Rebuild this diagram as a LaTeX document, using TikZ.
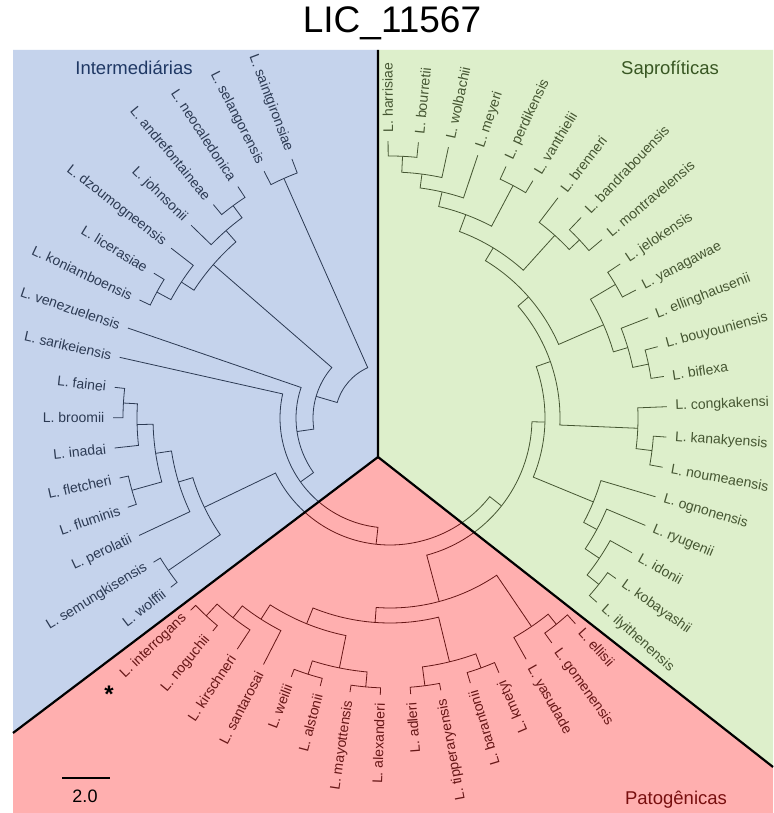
\documentclass[tikz,border=0pt]{standalone}
\usepackage{fontspec}
\setmainfont{Liberation Sans}
\definecolor{blueov}{RGB}{110,145,208}
\definecolor{greenov}{RGB}{172,215,125}
\definecolor{redov}{RGB}{255,55,55}
\definecolor{bluehead}{RGB}{31,56,100}
\definecolor{greenhead}{RGB}{56,87,35}
\definecolor{redhead}{RGB}{120,15,15}

% clade: node radius, child 1 (slot, radius), child 2 (slot, radius)
\newcommand{\clade}[5]{%
  \draw[branch] ({90.4-6.29*(#2)}:#3pt) -- ({90.4-6.29*(#2)}:#1pt)
    arc[start angle={90.4-6.29*(#2)}, end angle={90.4-6.29*(#4)}, radius=#1pt]
    -- ({90.4-6.29*(#4)}:#5pt);}

\begin{document}
\begin{tikzpicture}[x=1pt,y=1pt,
    branch/.style={line width=0.8pt, black},
    lab/.style={inner sep=0.5pt, font=\fontsize{14}{16}\selectfont},
    head/.style={font=\fontsize{18.5}{22}\selectfont}]

  \fill[white] (0,0) rectangle (773,813);
  \useasboundingbox (0,0) rectangle (773,813);

  \begin{scope}[shift={(390,395)}]

    % saprophytes
    \clade{262}{0}{277}{1}{277}
    \clade{246}{0.5}{262}{2}{277}
    \clade{232}{1.25}{246}{3}{277}
    \clade{263}{4}{277}{5}{277}
    \clade{217}{2.125}{232}{4.5}{263}
    \clade{260}{7}{277}{8}{277}
    \clade{246}{6}{277}{7.5}{260}
    \clade{199}{3.3125}{217}{6.75}{246}
    \clade{262}{9}{277}{10}{277}
    \clade{264}{12}{277}{13}{277}
    \clade{248}{11}{277}{12.5}{264}
    \clade{233}{9.5}{262}{11.75}{248}
    \clade{184}{5.03125}{199}{10.625}{233}
    \clade{264}{15}{277}{16}{277}
    \clade{248}{14}{277}{15.5}{264}
    \clade{170}{7.828}{184}{14.75}{248}
    \clade{267}{20}{277}{21}{277}
    \clade{252}{19}{277}{20.5}{267}
    \clade{235}{18}{277}{19.75}{252}
    \clade{220}{17}{277}{18.875}{235}
    \clade{155}{11.289}{170}{17.9375}{220}

    % pathogens
    \clade{265}{22}{277}{23}{277}
    \clade{252}{22.5}{265}{24}{277}
    \clade{266}{25}{277}{26}{277}
    \clade{270}{27}{277}{28}{277}
    \clade{251}{25.5}{266}{27.5}{270}
    \clade{270}{29}{277}{30}{277}
    \clade{269}{31}{277}{32}{277}
    \clade{255}{29.5}{270}{31.5}{269}
    \clade{270}{35}{277}{36}{277}
    \clade{254}{34}{277}{35.5}{270}
    \clade{239}{33}{277}{34.75}{254}
    \clade{222}{30.5}{255}{33.875}{239}
    \clade{205}{26.5}{251}{32.1875}{222}
    \clade{190}{23.25}{252}{29.344}{205}
    \clade{142}{14.613}{155}{26.297}{190}

    % intermediates
    \clade{269}{37}{277}{38}{277}
    \clade{268}{40}{277}{41}{277}
    \clade{267}{43}{277}{44}{277}
    \clade{253}{42}{277}{43.5}{267}
    \clade{237}{40.5}{268}{42.75}{253}
    \clade{221}{39}{277}{41.625}{237}
    \clade{206}{37.5}{269}{40.3125}{221}
    \clade{127}{20.455}{142}{38.906}{206}
    \clade{110}{29.68}{127}{45}{277}
    \clade{94}{37.34}{110}{46}{277}
    \clade{265}{47}{277}{48}{277}
    \clade{249}{47.5}{265}{49}{277}
    \clade{264}{51}{277}{52}{277}
    \clade{249}{50}{277}{51.5}{264}
    \clade{234}{48.25}{249}{50.75}{249}
    \clade{77}{41.67}{94}{49.5}{234}
    \clade{262}{53}{277}{54}{277}
    \clade{55}{45.585}{77}{53.5}{262}

    \foreach \i/\nm in {0/harrisiae, 1/bourretii, 2/wolbachii, 3/meyeri,
        4/perdikensis, 5/vanthielii, 6/brenneri, 7/bandrabouensis,
        8/montravelensis, 9/jelokensis, 10/yanagawae, 11/ellinghausenii,
        12/bouyouniensis, 13/biflexa, 14/congkakensi, 15/kanakyensis,
        16/noumeaensis, 17/ognonensis, 18/ryugenii, 19/idonii,
        20/kobayashii, 21/ilyithenensis, 22/ellisii, 23/gomenensis,
        24/yasudade, 25/kmetyi, 26/barantonii, 27/tipperaryensis,
        28/adleri, 29/alexanderi, 30/mayottensis, 31/alstonii, 32/weilii,
        33/santarosai, 34/kirschneri, 35/noguchii, 36/interrogans,
        37/wolffii, 38/semungkisensis, 39/perolatii, 40/fluminis,
        41/fletcheri, 42/inadai, 43/broomii, 44/fainei, 45/sarikeiensis,
        46/venezuelensis, 47/koniamboensis, 48/licerasiae,
        49/dzoumogneensis, 50/johnsonii, 51/andrefontaineae,
        52/neocaledonica, 53/selangorensis, 54/saintgironsiae} {
      \pgfmathsetmacro{\ang}{90.4-6.29*\i}
      \coordinate (t\i) at (\ang:277pt);
      \ifnum\i<25
        \node[lab, anchor=west, rotate=\ang] (l\i) at (\ang:285pt) {L. \nm};
      \else
        \node[lab, anchor=east, rotate=\ang+180] (l\i) at (\ang:285pt) {L. \nm};
      \fi
    }
  \end{scope}

  % coloured groups over the tree
  \coordinate (top) at (378,763);
  \coordinate (mid) at (378,356);
  \coordinate (lft) at (13,80);
  \coordinate (rgt) at (773,46);
  \fill[blueov, opacity=0.4] (13,763) -- (top) -- (mid) -- (lft) -- cycle;
  \fill[greenov, opacity=0.4] (top) -- (773,763) -- (rgt) -- (mid) -- cycle;
  \fill[redov, opacity=0.4] (mid) -- (rgt) -- (773,0) -- (13,0) -- (lft) -- cycle;
  \draw[line width=2.2pt] (top) -- (mid) -- (lft);
  \draw[line width=2.2pt] (mid) -- (rgt);

  \node[head, text=bluehead] (hint) at (134,745) {Intermediárias};
  \node[head, text=greenhead] (hsap) at (670,743) {Saprofíticas};
  \node[head, text=redhead] (hpat) at (676,13) {Patogênicas};
  \node[font=\fontsize{37}{42}\selectfont] (title) at (392,790) {LIC\_11567};

  \node[anchor=base, font=\bfseries\fontsize{24}{28}\selectfont] (star) at (109,110) {*};

  \coordinate (sb1) at (62,35);
  \coordinate (sb2) at (110,35);
  \draw[line width=1.6pt] (sb1) -- (sb2);
  \node[font=\fontsize{18}{21}\selectfont] (sblab) at (85,17) {2.0};

\end{tikzpicture}
\end{document}
